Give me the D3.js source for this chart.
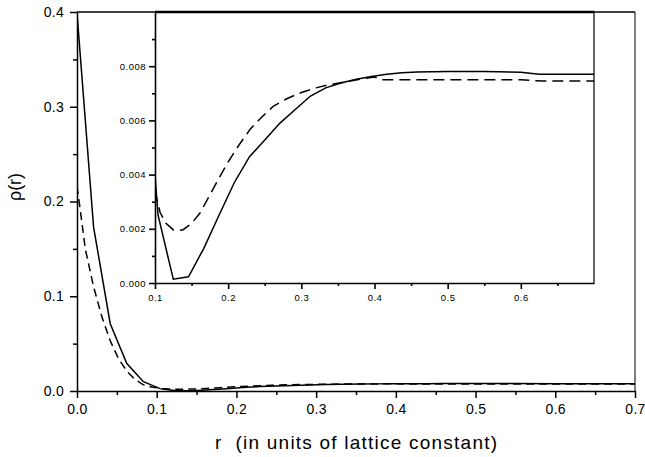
<!DOCTYPE html>
<html>
<head>
<meta charset="utf-8">
<script src="https://cdnjs.cloudflare.com/ajax/libs/d3/7.8.5/d3.min.js"></script>
<style>
  html, body { margin: 0; padding: 0; background: #fff; }
  svg { display: block; font-family: "Liberation Sans", Arial, sans-serif; }
  .axis path, .axis line { stroke: #000; }
  .curve { fill: none; stroke: #000; stroke-width: 1.5; }
</style>
</head>
<body>
<svg id="chart" width="645" height="457"></svg>
<script>
// solid curve, sampled every 1/48 lattice constant
const solidR = [0, 0.0208, 0.0417, 0.0625, 0.0833, 0.1042, 0.125, 0.1458, 0.1667, 0.1875,
  0.2083, 0.2292, 0.25, 0.2708, 0.2917, 0.3125, 0.3333, 0.3542, 0.375, 0.3958,
  0.4167, 0.4375, 0.4583, 0.5, 0.55, 0.6, 0.625, 0.7];
const solidRho = [0.399, 0.173, 0.071, 0.029, 0.0098, 0.0025, 0.00014, 0.00023, 0.00128, 0.0025,
  0.0037, 0.00466, 0.00528, 0.0059, 0.0064, 0.0069, 0.0072, 0.00738, 0.00752, 0.00762,
  0.0077, 0.00776, 0.00779, 0.0078, 0.0078, 0.00778, 0.0077, 0.0077];

// dashed curve
const dashR = [0, 0.003, 0.0104, 0.0208, 0.0313, 0.0417, 0.0521, 0.0625, 0.0729, 0.0833,
  0.0938, 0.1, 0.107, 0.115, 0.125, 0.138, 0.15, 0.1615, 0.18, 0.199,
  0.215, 0.23, 0.245, 0.262, 0.28, 0.3, 0.32, 0.335, 0.36, 0.38,
  0.4, 0.412, 0.5, 0.6, 0.63, 0.7];
const dashRho = [0.216, 0.198, 0.15, 0.11, 0.078, 0.053, 0.034, 0.021, 0.012, 0.0065,
  0.0042, 0.0034, 0.0026, 0.0022, 0.00196, 0.00196, 0.0022, 0.00258, 0.0035, 0.00443,
  0.0051, 0.00567, 0.0061, 0.00653, 0.0068, 0.00703, 0.0072, 0.0073, 0.00742, 0.00752,
  0.0076, 0.0075, 0.0075, 0.0075, 0.00745, 0.00745];

const mainXTicks = [0, 0.1, 0.2, 0.3, 0.4, 0.5, 0.6, 0.7];
const mainXMinor = [0.05, 0.15, 0.25, 0.35, 0.45, 0.55, 0.65];
const mainYTicks = [0, 0.1, 0.2, 0.3, 0.4];
const mainYMinor = [0.05, 0.15, 0.25, 0.35];
const insetXTicks = [0.1, 0.2, 0.3, 0.4, 0.5, 0.6];
const insetXMinor = [0.15, 0.25, 0.35, 0.45, 0.55, 0.65];
const insetYTicks = [0, 0.002, 0.004, 0.006, 0.008];
const insetYMinor = [0.001, 0.003, 0.005, 0.007, 0.009];

const solid = solidR.map(function(r, i) { return {r: r, v: solidRho[i]}; });
const dashed = dashR.map(function(r, i) { return {r: r, v: dashRho[i]}; });

const svg = d3.select("#chart");

class Panel {
  constructor(opts) {
    this.x = d3.scaleLinear().domain(opts.xDomain).range([opts.left, opts.right]);
    this.y = d3.scaleLinear().domain(opts.yDomain).range([opts.bottom, opts.top]);
    this.opts = opts;
    this.g = svg.append("g");
  }

  styleLabels(axis) {
    const o = this.opts;
    axis.selectAll("text")
      .style("font-size", o.font + "px")
      .style("letter-spacing", o.spacing + "px")
      .attr("fill", "#000");
  }

  render() {
    const self = this, o = this.opts;
    const clipId = o.name + "-clip";
    self.g.append("clipPath").attr("id", clipId)
      .append("rect")
      .attr("x", o.left).attr("y", o.top)
      .attr("width", o.right - o.left).attr("height", o.bottom - o.top);

    self.g.append("rect")
      .attr("x", o.left).attr("y", o.top)
      .attr("width", o.right - o.left).attr("height", o.bottom - o.top)
      .attr("fill", "#fff").attr("stroke", "none");

    const line = d3.line()
      .x(function(d) { return self.x(d.r); })
      .y(function(d) { return self.y(d.v); });

    const curves = self.g.append("g").attr("clip-path", "url(#" + clipId + ")");
    curves.append("path").attr("class", "curve").attr("d", line(solid));
    curves.append("path").attr("class", "curve")
      .attr("stroke-dasharray", o.dash)
      .attr("d", line(dashed));

    // minor ticks first, then labelled ones
    self.g.append("g").attr("class", "axis")
      .attr("transform", "translate(0," + o.bottom + ")")
      .call(d3.axisBottom(self.x).tickValues(o.xMinor).tickSize(o.minorLen).tickFormat(""))
      .call(function(g) { g.select(".domain").remove(); })
      .selectAll("line").attr("stroke-width", o.axisWidth);
    self.g.append("g").attr("class", "axis")
      .attr("transform", "translate(" + o.left + ",0)")
      .call(d3.axisLeft(self.y).tickValues(o.yMinor).tickSize(o.minorLen).tickFormat(""))
      .call(function(g) { g.select(".domain").remove(); })
      .selectAll("line").attr("stroke-width", o.axisWidth);

    const xAxis = self.g.append("g").attr("class", "axis")
      .attr("transform", "translate(0," + o.bottom + ")")
      .call(d3.axisBottom(self.x).tickValues(o.xTicks).tickSize(o.majorLen)
        .tickSizeOuter(0).tickPadding(o.xPad).tickFormat(d3.format(".1f")));
    self.styleLabels(xAxis);

    const yAxis = self.g.append("g").attr("class", "axis")
      .attr("transform", "translate(" + o.left + ",0)")
      .call(d3.axisLeft(self.y).tickValues(o.yTicks).tickSize(o.majorLen)
        .tickSizeOuter(0).tickPadding(o.yPad).tickFormat(d3.format(o.yFormat)));
    self.styleLabels(yAxis);

    [xAxis, yAxis].forEach(function(a) {
      a.selectAll("line, path").attr("stroke-width", o.axisWidth);
    });

    // top and right frame
    self.g.append("path")
      .attr("d", "M" + o.left + "," + o.top + "H" + o.right + "V" + o.bottom)
      .attr("fill", "none").attr("stroke", "#000").attr("stroke-width", o.frameWidth);
    self.g.append("line")
      .attr("x1", o.left).attr("x2", o.right).attr("y1", o.top).attr("y2", o.top)
      .attr("stroke", "#000").attr("stroke-width", o.topWidth);
  }
}

const mainPanel = new Panel({
  name: "main", left: 77, right: 635, top: 12, bottom: 391,
  xDomain: [0, 0.7], yDomain: [0, 0.4],
  xTicks: mainXTicks, xMinor: mainXMinor, yTicks: mainYTicks, yMinor: mainYMinor,
  majorLen: 7, minorLen: 4, xPad: 6, yPad: 6, font: 14, spacing: 0.3, yFormat: ".1f",
  dash: "8,5", axisWidth: 1.5, frameWidth: 1, topWidth: 1.2
});
mainPanel.render();

const insetPanel = new Panel({
  name: "inset", left: 155, right: 594, top: 12, bottom: 283,
  xDomain: [0.1, 0.7], yDomain: [0, 0.01],
  xTicks: insetXTicks, xMinor: insetXMinor, yTicks: insetYTicks, yMinor: insetYMinor,
  majorLen: 6, minorLen: 3, xPad: 5, yPad: 3, font: 9.5, spacing: 0.5, yFormat: ".3f",
  dash: "11,6", axisWidth: 1.6, frameWidth: 1.2, topWidth: 2.6
});
insetPanel.render();

// axis titles
svg.append("text")
  .attr("x", 356).attr("y", 449)
  .attr("text-anchor", "middle")
  .style("font-size", "19px")
  .attr("textLength", 282)
  .attr("lengthAdjust", "spacing")
  .attr("xml:space", "preserve")
  .text("r  (in units of lattice constant)");

svg.append("text")
  .attr("transform", "translate(21,187) rotate(-90)")
  .attr("text-anchor", "middle")
  .style("font-size", "18px")
  .text("ρ(r)");
</script>
</body>
</html>
